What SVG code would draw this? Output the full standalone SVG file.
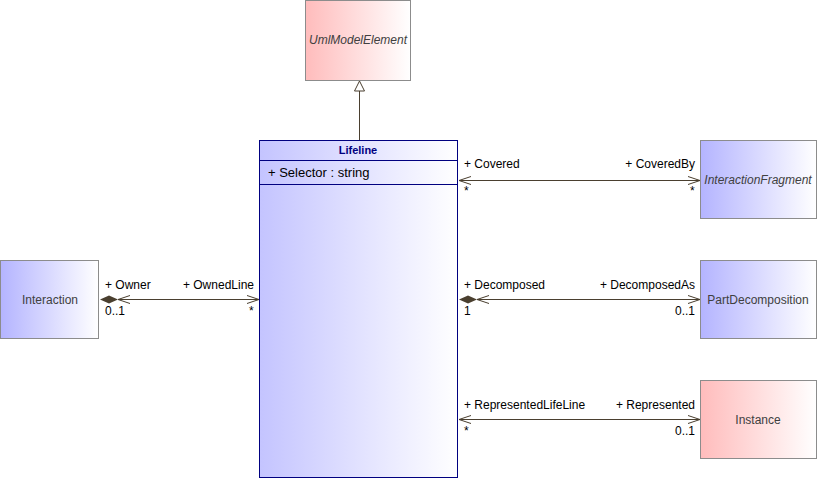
<svg xmlns="http://www.w3.org/2000/svg" width="818" height="480" viewBox="0 0 818 480">
<style>
text{font-family:"Liberation Sans",Arial,sans-serif;font-size:12px;fill:#000}
.nm{fill:#404040;font-size:12px}
.it{font-style:italic}
.box{stroke:#8c8c8c;stroke-width:1}
.ln{stroke:#4a3f2f;stroke-width:1;fill:none}
.title{font-weight:bold;fill:#000080;font-size:11px}
</style>
<defs>
<linearGradient id="gb" x1="0" y1="0" x2="1" y2="0"><stop offset="0" stop-color="#b4b4ff"/><stop offset="1" stop-color="#ffffff"/></linearGradient>
<linearGradient id="gl" x1="0" y1="0" x2="1" y2="0"><stop offset="0" stop-color="#c4c4ff"/><stop offset="1" stop-color="#ffffff"/></linearGradient>
<linearGradient id="gp" x1="0" y1="0" x2="1" y2="0"><stop offset="0" stop-color="#ffbcbc"/><stop offset="1" stop-color="#ffffff"/></linearGradient>
<marker id="open" markerWidth="14" markerHeight="10" refX="13" refY="5" orient="auto-start-reverse" markerUnits="userSpaceOnUse"><path d="M1,1 L13,5 L1,9" fill="none" stroke="#4a3f2f"/></marker>
</defs>
<g id="UmlModelElement"><rect class="box" x="305.5" y="0.5" width="105" height="80" fill="url(#gp)"/><text class="nm it" x="358" y="44" text-anchor="middle">UmlModelElement</text></g>
<g id="Lifeline"><rect x="259.5" y="140.5" width="198" height="337" fill="url(#gl)" stroke="#000080"/><line x1="259.5" y1="160.5" x2="457.5" y2="160.5" stroke="#000080"/><line x1="259.5" y1="184.5" x2="457.5" y2="184.5" stroke="#000080"/><text class="title" x="358" y="154" text-anchor="middle">Lifeline</text><text x="268" y="177" style="font-size:13px">+ Selector : string</text></g>
<g id="Interaction"><rect class="box" x="0.5" y="260.5" width="98" height="78" fill="url(#gb)"/><text class="nm" x="50" y="304" text-anchor="middle">Interaction</text></g>
<g id="InteractionFragment"><rect class="box" x="700.5" y="140.5" width="116" height="78" fill="url(#gb)"/><text class="nm it" x="758" y="184" text-anchor="middle">InteractionFragment</text></g>
<g id="PartDecomposition"><rect class="box" x="700.5" y="260.5" width="116" height="78" fill="url(#gb)"/><text class="nm" x="758" y="304" text-anchor="middle">PartDecomposition</text></g>
<g id="Instance"><rect class="box" x="700.5" y="380.5" width="116" height="78" fill="url(#gp)"/><text class="nm" x="758" y="424" text-anchor="middle">Instance</text></g>
<g id="connectors">
<line class="ln" x1="359.5" y1="91" x2="359.5" y2="140"/>
<path d="M359.5,81 L364.5,91 L354.5,91 Z" fill="#fff" stroke="#4a3f2f"/>
<line class="ln" x1="459" y1="180.5" x2="700" y2="180.5" marker-start="url(#open)" marker-end="url(#open)"/>
<text x="464" y="168">+ Covered</text><text x="695" y="168" text-anchor="end">+ CoveredBy</text>
<text x="464" y="195">*</text><text x="690" y="195">*</text>
<line class="ln" x1="118" y1="299.5" x2="259" y2="299.5" marker-start="url(#open)" marker-end="url(#open)"/>
<path d="M100,299.5 L109,295.5 L118,299.5 L109,303.5 Z" fill="#4a3f2f"/>
<text x="105" y="289">+ Owner</text><text x="254" y="289" text-anchor="end">+ OwnedLine</text>
<text x="105" y="315">0..1</text><text x="249" y="315">*</text>
<line class="ln" x1="477" y1="299.5" x2="700" y2="299.5" marker-start="url(#open)" marker-end="url(#open)"/>
<path d="M459,299.5 L468,295.5 L477,299.5 L468,303.5 Z" fill="#4a3f2f"/>
<text x="464" y="289">+ Decomposed</text><text x="695" y="289" text-anchor="end">+ DecomposedAs</text>
<text x="464" y="315">1</text><text x="695" y="315" text-anchor="end">0..1</text>
<line class="ln" x1="459" y1="419.5" x2="700" y2="419.5" marker-start="url(#open)" marker-end="url(#open)"/>
<text x="464" y="409">+ RepresentedLifeLine</text><text x="695" y="409" text-anchor="end">+ Represented</text>
<text x="464" y="435">*</text><text x="695" y="435" text-anchor="end">0..1</text>
</g>
</svg>
